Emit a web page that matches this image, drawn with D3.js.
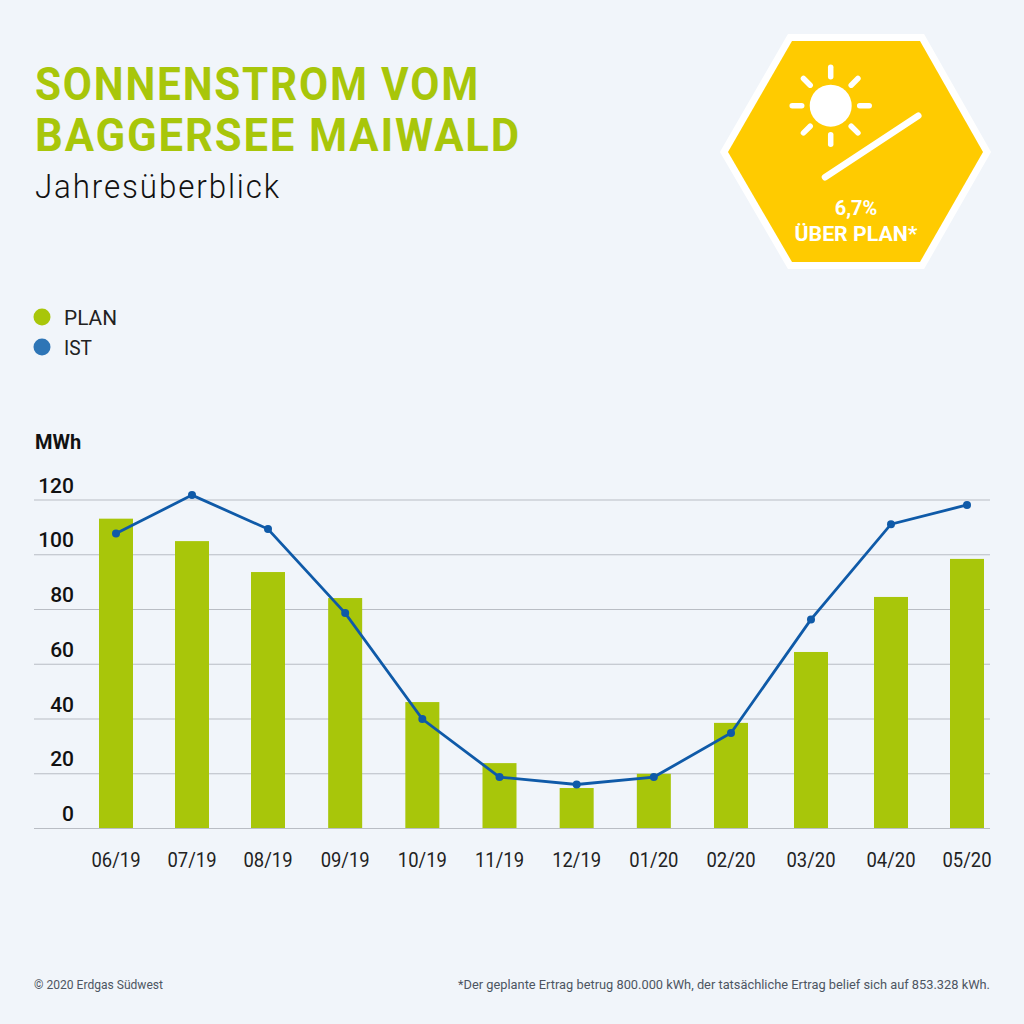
<!DOCTYPE html>
<html>
<head>
<meta charset="utf-8">
<script src="https://cdn.jsdelivr.net/npm/d3@7"></script>
<style>
body { margin: 0; background: #f1f5fa; }
svg { display: block; font-family: Roboto, sans-serif; }
</style>
</head>
<body>
<script>
// Values (MWh)
const months = ["06/19", "07/19", "08/19", "09/19", "10/19", "11/19", "12/19", "01/20", "02/20", "03/20", "04/20", "05/20"];
const plan = [113, 104.8, 93.5, 84, 46, 23.7, 14.6, 19.8, 38.4, 64.3, 84.4, 98.3];
const ist = [107.6, 121.6, 109.2, 78.5, 39.8, 18.6, 15.9, 18.6, 34.7, 76.2, 111, 118];
const yTicks = [0, 20, 40, 60, 80, 100, 120];

const green = "#a8c60a";
const blue = "#0f5aa8";

const svg = d3.select("body")
    .append("svg")
    .attr("width", 1024)
    .attr("height", 1024);

svg.append("rect").attr("width", 1024).attr("height", 1024).attr("fill", "#f1f5fa");

// Months are not quite evenly spaced in the original, hence the extra stops
const x = d3.scaleLinear().domain([0, 2, 8, 10, 11]).range([116, 268, 731, 891, 967]);
const y = d3.scaleLinear().domain([0, 120]).range([828, 499.5]);
const barWidth = 34;

// Roboto is wider than the original font, so squeeze the glyphs to a measured width
function fit(sel, width) {
    return sel.attr("textLength", width).attr("lengthAdjust", "spacingAndGlyphs");
}

// Title block
svg.append("text").attr("x", 35).attr("y", 100).text("SONNENSTROM VOM")
    .attr("font-size", 47).attr("font-weight", 700).attr("letter-spacing", 2).attr("fill", green).call(fit, 445);
svg.append("text").attr("x", 35).attr("y", 151).text("BAGGERSEE MAIWALD")
    .attr("font-size", 47).attr("font-weight", 700).attr("letter-spacing", 2).attr("fill", green).call(fit, 486);
svg.append("text").attr("x", 35).attr("y", 198).text("Jahresüberblick")
    .attr("font-size", 33).attr("font-weight", 300).attr("letter-spacing", 2).attr("fill", "#111").call(fit, 246);

// Hexagon badge
const hexPoints = "792,41 920,41 983,152 920,262 792,262 728,152";
const badge = svg.append("g");
badge.append("polygon")
    .attr("points", hexPoints)
    .attr("fill", "#fff")
    .attr("stroke", "#fff")
    .attr("stroke-width", 14);
badge.append("polygon")
    .attr("points", hexPoints)
    .attr("fill", "#ffcb00");
badge.append("circle").attr("cx", 830.7).attr("cy", 105.7).attr("r", 21).attr("fill", "#fff");
d3.range(8).forEach(i => {
    const a = i * Math.PI / 4;
    badge.append("line")
        .attr("x1", 830.7 + 29 * Math.cos(a)).attr("y1", 105.7 + 29 * Math.sin(a))
        .attr("x2", 830.7 + 38.5 * Math.cos(a)).attr("y2", 105.7 + 38.5 * Math.sin(a))
        .attr("stroke", "#fff").attr("stroke-width", 5.5).attr("stroke-linecap", "round");
});
badge.append("line")
    .attr("x1", 825).attr("y1", 177.3).attr("x2", 918.3).attr("y2", 115.7)
    .attr("stroke", "#fff").attr("stroke-width", 6.5).attr("stroke-linecap", "round");
badge.append("text").attr("x", 856).attr("y", 215).attr("text-anchor", "middle").text("6,7%")
    .attr("font-size", 20).attr("font-weight", 700).attr("fill", "#fff");
badge.append("text").attr("x", 856).attr("y", 241).attr("text-anchor", "middle").text("ÜBER PLAN*")
    .attr("font-size", 20).attr("font-weight", 700).attr("fill", "#fff").call(fit, 123);

// Legend
const legend = [["PLAN", green, 53], ["IST", "#2e75b6", 28]];
legend.forEach(([label, color, width], i) => {
    svg.append("circle").attr("cx", 42).attr("cy", 317 + i * 30).attr("r", 8.5).attr("fill", color);
    svg.append("text").attr("x", 64).attr("y", 324.5 + i * 30).text(label)
        .attr("font-size", 20).attr("fill", "#222").call(fit, width);
});

svg.append("text").attr("x", 35).attr("y", 449).text("MWh")
    .attr("font-size", 20).attr("font-weight", 700).attr("fill", "#111");

// Grid and y labels
const yAxis = svg.append("g")
    .attr("transform", "translate(990,0)")
    .call(d3.axisLeft(y).tickValues(yTicks).tickSize(956).tickFormat(d3.format("d")));
yAxis.select(".domain").remove();
yAxis.selectAll(".tick line").attr("stroke", "#b9bdc4").attr("stroke-width", 1.2);
yAxis.selectAll(".tick text")
    .attr("x", -916)
    .attr("dy", -7.5)
    .attr("font-family", "Roboto, sans-serif")
    .attr("font-size", 21)
    .attr("font-weight", 500)
    .attr("fill", "#111");

// Bars
svg.selectAll(".bar")
    .data(plan)
    .enter()
    .append("rect")
    .attr("class", "bar")
    .attr("x", (d, i) => x(i) - barWidth / 2)
    .attr("y", d => y(d))
    .attr("width", barWidth)
    .attr("height", d => y(0) - y(d))
    .attr("fill", green);

// Line
const line = d3.line().x((d, i) => x(i)).y(d => y(d));
svg.append("path")
    .datum(ist)
    .attr("d", line)
    .attr("fill", "none")
    .attr("stroke", blue)
    .attr("stroke-width", 2.8);
svg.selectAll(".dot")
    .data(ist)
    .enter()
    .append("circle")
    .attr("class", "dot")
    .attr("cx", (d, i) => x(i))
    .attr("cy", d => y(d))
    .attr("r", 4)
    .attr("fill", blue);

// Month labels
svg.selectAll(".month")
    .data(months)
    .enter()
    .append("text")
    .attr("class", "month")
    .attr("x", (d, i) => x(i))
    .attr("y", 867)
    .attr("text-anchor", "middle")
    .attr("font-size", 20.5)
    .attr("fill", "#222")
    .text(d => d)
    .call(fit, 49);

// Footer
svg.append("text").attr("x", 34).attr("y", 989).text("© 2020 Erdgas Südwest")
    .attr("font-size", 13).attr("fill", "#4d5562").call(fit, 129);
svg.append("text").attr("x", 458).attr("y", 989)
    .text("*Der geplante Ertrag betrug 800.000 kWh, der tatsächliche Ertrag belief sich auf 853.328 kWh.")
    .attr("font-size", 13).attr("fill", "#4d5562").call(fit, 532);
</script>
</body>
</html>
